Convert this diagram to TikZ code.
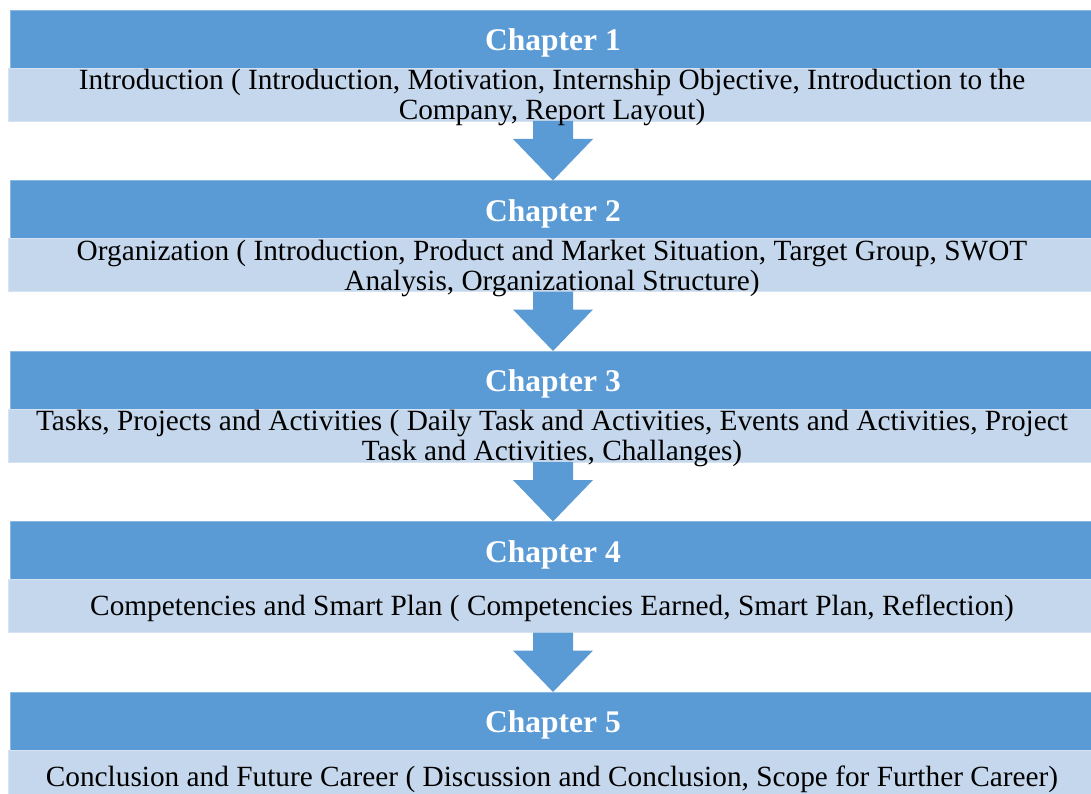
\documentclass[tikz,border=0pt]{standalone}
\usepackage{fontspec}
\setmainfont{Liberation Serif}
\definecolor{hdrblue}{HTML}{5B9BD5}
\definecolor{lightblue}{HTML}{C5D7EC}
\begin{document}
\begin{tikzpicture}[x=1pt,y=-1pt,
  hdr/.style={rectangle, fill=hdrblue, draw=hdrblue!70!white, line width=0.6pt, minimum width=1086pt, minimum height=58pt, inner sep=0pt, outer sep=0pt},
  hdrtxt/.style={inner sep=0pt, text=white, font=\fontsize{31.5}{34}\selectfont\bfseries},
  desc/.style={rectangle, fill=lightblue, draw=lightblue!70!white, line width=0.6pt, minimum width=1088pt, minimum height=53pt, inner sep=0pt, outer sep=0pt},
  txt/.style={align=center, inner sep=0pt, font=\fontsize{29.3}{30}\selectfont},
  blockarrow/.style={fill=hdrblue, draw=none}
]
\useasboundingbox (0,0) rectangle (1091,794);
\clip (0,0) rectangle (1091,794);
\foreach \i/\t in {1/10,2/180.5,3/351,4/521.5,5/692}{
  \node[hdr] (h\i) at (553,\t+29) {};
  \node[hdrtxt] (c\i) at ([yshift=-4pt]h\i.center) {Chapter \i};
  \node[desc] (d\i) at (552,\t+84.5) {};
}
\foreach \a/\b in {1/2,2/3,3/4,4/5}{
  \fill[blockarrow] ([xshift=-20pt]d\a.south -| h\a.south) -- ([xshift=20pt]d\a.south -| h\a.south)
    -- ([xshift=20pt,yshift=-18pt]d\a.south -| h\a.south) -- ([xshift=40pt,yshift=-18pt]d\a.south -| h\a.south)
    -- (h\b.north) -- ([xshift=-40pt,yshift=-18pt]d\a.south -| h\a.south)
    -- ([xshift=-20pt,yshift=-18pt]d\a.south -| h\a.south) -- cycle;
}
\node[txt] (t1) at ([yshift=-3pt]d1.center) {Introduction ( Introduction, Motivation, Internship Objective, Introduction to the\\Company, Report Layout)};
\node[txt] (t2) at ([yshift=-3pt]d2.center) {Organization ( Introduction, Product and Market Situation, Target Group, SWOT\\Analysis, Organizational Structure)};
\node[txt] (t3) at ([yshift=-3pt]d3.center) {Tasks, Projects and Activities ( Daily Task and Activities, Events and Activities, Project\\Task and Activities, Challanges)};
\node[txt] (t4) at ([yshift=-2pt]d4.center) {Competencies and Smart Plan ( Competencies Earned, Smart Plan, Reflection)};
\node[txt] (t5) at ([yshift=-3pt]d5.center) {Conclusion and Future Career ( Discussion and Conclusion, Scope for Further Career)};
\end{tikzpicture}
\end{document}
